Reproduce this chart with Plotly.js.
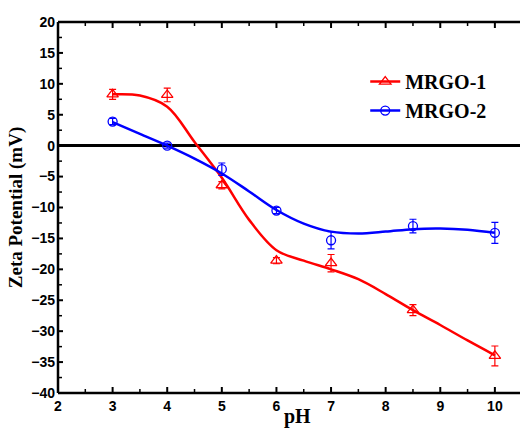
<!DOCTYPE html>
<html><head><meta charset="utf-8">
<script src="https://cdn.plot.ly/plotly-3.0.1.min.js"></script>
<style>html,body{margin:0;padding:0;background:#fff}#chart{width:520px;height:432px}</style>
</head><body><div id="chart"></div>
<script>
// measured points
const pH = [3, 4, 5, 6, 7, 8.5, 10];
const mrgo1 = [8.3, 8.2, -6.4, -18.6, -19.0, -26.6, -34.0];
const mrgo1Err = [0.8, 1.1, 0.6, 0.5, 1.4, 0.9, 1.6];
const mrgo2 = [3.9, 0.0, -3.8, -10.5, -15.3, -13.0, -14.1];
const mrgo2Err = [0.5, 0.4, 1.0, 0.5, 1.4, 1.1, 1.7];
// fitted curves
const fitX = [3, 3.5, 4, 4.5, 5, 5.5, 6, 6.5, 7, 7.5, 8, 8.5, 9, 9.5, 10];
const fit1 = [8.3, 8.1, 6.3, 0.6, -5.2, -12.0, -16.9, -18.6, -20.0, -21.6, -24.0, -26.6, -29.0, -31.5, -33.9];
const fit2 = [3.8, 1.9, 0.0, -2.1, -4.5, -7.4, -10.4, -12.6, -13.9, -14.2, -13.9, -13.5, -13.4, -13.6, -14.1];
const names = ['MRGO-1', 'MRGO-2'];
const xTicks = [2, 3, 4, 5, 6, 7, 8, 9, 10];
const yTicks = [-40, -35, -30, -25, -20, -15, -10, -5, 0, 5, 10, 15, 20];

const RED = '#ff0000', BLUE = '#0000ff';
const traces = [
  {x: fitX, y: fit1, mode: 'lines', line: {color: RED, width: 2.5, shape: 'spline', smoothing: 1}, showlegend: false, hoverinfo: 'skip'},
  {x: fitX, y: fit2, mode: 'lines', line: {color: BLUE, width: 2.5, shape: 'spline', smoothing: 1}, showlegend: false, hoverinfo: 'skip'},
  {x: pH, y: mrgo1, mode: 'markers', showlegend: false,
   marker: {symbol: 'triangle-up-open', size: 10, color: RED, line: {width: 1.3, color: RED}},
   error_y: {type: 'data', array: mrgo1Err, visible: true, color: RED, thickness: 1.2, width: 3.5}},
  {x: pH, y: mrgo2, mode: 'markers', showlegend: false,
   marker: {symbol: 'circle-open', size: 9, color: BLUE, line: {width: 1.3, color: BLUE}},
   error_y: {type: 'data', array: mrgo2Err, visible: true, color: BLUE, thickness: 1.2, width: 3.5}},
  {x: [null], y: [null], name: names[0], mode: 'lines+markers', line: {color: RED, width: 2.5},
   marker: {symbol: 'triangle-up-open', size: 10, color: RED, line: {width: 1.3, color: RED}}},
  {x: [null], y: [null], name: names[1], mode: 'lines+markers', line: {color: BLUE, width: 2.5},
   marker: {symbol: 'circle-open', size: 9, color: BLUE, line: {width: 1.3, color: BLUE}}}
];

// axis frame and tick decorations built from the tick arrays
const PW = 462, PH = 371;
const shapes = [];
function seg(xref, yref, x0, y0, x1, y1, w) {
  shapes.push({type: 'line', xref: xref, yref: yref, x0: x0, y0: y0, x1: x1, y1: y1, layer: 'above',
    line: {color: '#000', width: w}});
}
seg('paper', 'paper', 0, 0, 0, 1, 2.5);
seg('paper', 'paper', 0, 0, 1, 0, 2.5);
seg('paper', 'paper', 0, 1, 1, 1, 2.5);
xTicks.forEach(function(v, i) {
  seg('x', 'paper', v, 0, v, 6 / PH, 2);
  seg('x', 'paper', v, 1, v, 1 - 6 / PH, 2);
  if (i < xTicks.length - 1) {
    const m = (v + xTicks[i + 1]) / 2;
    seg('x', 'paper', m, 0, m, 4 / PH, 1.5);
    seg('x', 'paper', m, 1, m, 1 - 4 / PH, 1.5);
  }
});
yTicks.forEach(function(v, i) {
  seg('paper', 'y', 0, v, 5 / PW, v, 2);
  if (i < yTicks.length - 1) {
    const m = (v + yTicks[i + 1]) / 2;
    seg('paper', 'y', 0, m, 4 / PW, m, 1.5);
  }
});

const tickFont = {family: 'Liberation Sans, Arial', size: 14, color: '#000', weight: 'bold'};
const serif = 'Liberation Serif, Times New Roman';
const layout = {
  width: 520, height: 432,
  margin: {l: 58, r: 0, t: 22, b: 39},
  paper_bgcolor: '#ffffff', plot_bgcolor: 'rgba(0,0,0,0)',
  showlegend: true,
  legend: {x: 0.665, y: 0.892, xanchor: 'left', yanchor: 'top', bgcolor: 'rgba(0,0,0,0)',
    font: {family: serif, size: 20, color: '#000', weight: 'bold'}, tracegroupgap: 0, itemwidth: 30},
  xaxis: {range: [xTicks[0], 10.46], tickmode: 'linear', tick0: xTicks[0], dtick: xTicks[1] - xTicks[0],
    showgrid: false, zeroline: false, showline: false, ticks: '', ticklabelstandoff: 3,
    tickfont: tickFont},
  yaxis: {range: [yTicks[0], yTicks[yTicks.length - 1]], tickmode: 'linear', tick0: yTicks[0], dtick: yTicks[1] - yTicks[0],
    showgrid: false, zeroline: true, zerolinecolor: '#000', zerolinewidth: 2.5,
    showline: false, ticks: '', ticklabelstandoff: 2,
    tickfont: tickFont,
    title: {text: 'Zeta Potential (mV)', font: {family: serif, size: 19, color: '#000', weight: 'bold'}, standoff: 3}},
  shapes: shapes,
  annotations: [{text: 'pH', xref: 'paper', yref: 'paper', x: 0.519, y: -0.062, xanchor: 'center', yanchor: 'middle',
    showarrow: false, font: {family: serif, size: 20, color: '#000', weight: 'bold'}}]
};
Plotly.newPlot('chart', traces, layout, {displayModeBar: false, staticPlot: true});
</script>
</body></html>
